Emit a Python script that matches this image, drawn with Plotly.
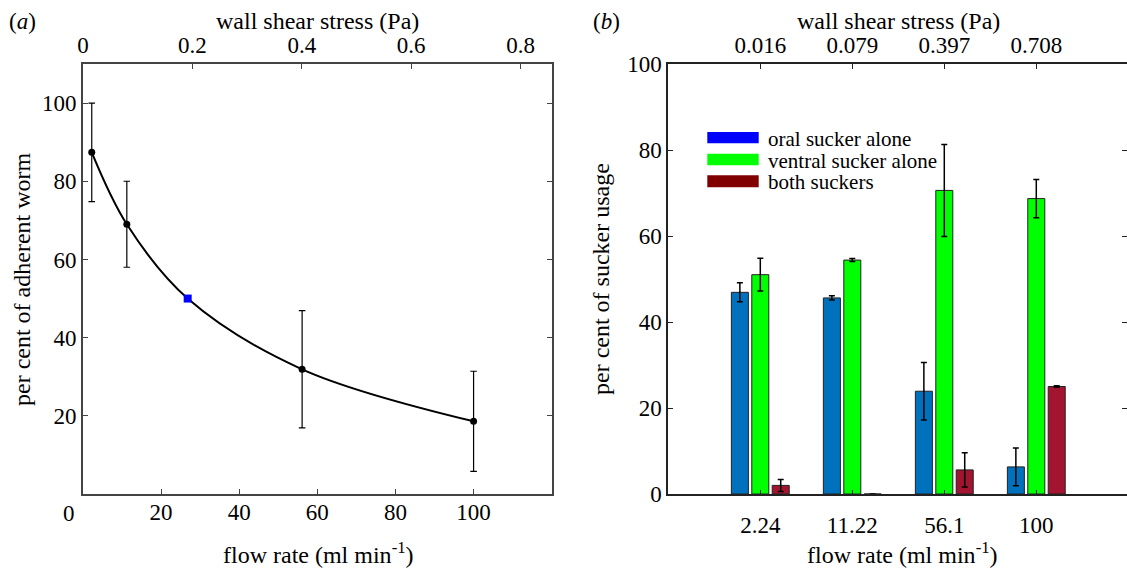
import plotly.graph_objects as go

# ---------------- data ----------------
# panel (a)
flow_a = [2.24, 11.22, 56.1, 100]
adherent = [87.4, 69.0, 31.9, 18.6]
adherent_err = [12.6, 11.0, 15.0, 12.8]
half_flow = [26.8]          # blue square (50 % point)
half_value = [50.0]
curve_x = [2.24, 11.22, 26.8, 56.1, 100]
curve_y = [87.4, 69.0, 50.0, 31.9, 18.6]
a_x_ticks = [20, 40, 60, 80, 100]
a_top_ticks = [0, 0.2, 0.4, 0.6, 0.8]
a_top_labels = ["0", "0.2", "0.4", "0.6", "0.8"]
a_y_ticks = [20, 40, 60, 80, 100]

# panel (b)
flow_labels = ["2.24", "11.22", "56.1", "100"]
stress_labels = ["0.016", "0.079", "0.397", "0.708"]
positions = [1, 2, 3, 4]
oral = [46.9, 45.6, 23.9, 6.3]
oral_err = [2.2, 0.5, 6.7, 4.4]
ventral = [51.0, 54.4, 70.6, 68.7]
ventral_err = [3.8, 0.35, 10.7, 4.45]
both = [2.0, 0.0, 5.6, 25.0]
both_err = [1.4, 0.0, 4.0, 0.2]
b_y_ticks = [0, 20, 40, 60, 80, 100]
series_names = ["oral sucker alone", "ventral sucker alone", "both suckers"]
bar_colors = ["#0072BD", "#00FF00", "#A2142F"]
legend_colors = ["#0000FF", "#00FF00", "#800000"]

# ---------------- layout helpers ----------------
W, H = 1127, 571
FONT = "Liberation Serif, Times New Roman, DejaVu Serif, serif"
def px(x):
    return x / W
def py(y):
    return 1 - y / H

tickfont = dict(family=FONT, size=23, color="black")

fig = go.Figure()

# panel (a)
fig.add_trace(go.Scatter(x=curve_x, y=curve_y, mode="lines", line=dict(color="black", width=2, shape="spline"),
                         xaxis="x", yaxis="y", showlegend=False, hoverinfo="skip"))
fig.add_trace(go.Scatter(x=flow_a, y=adherent, mode="markers",
                         marker=dict(color="black", size=7),
                         error_y=dict(type="data", array=adherent_err, color="black", thickness=1.2, width=3.3),
                         xaxis="x", yaxis="y", showlegend=False))
fig.add_trace(go.Scatter(x=half_flow, y=half_value, mode="markers",
                         marker=dict(color="#0000FF", size=8, symbol="square"),
                         xaxis="x", yaxis="y", showlegend=False))
fig.add_trace(go.Scatter(x=a_top_ticks, y=[None] * len(a_top_ticks), mode="markers",
                         xaxis="x2", yaxis="y", showlegend=False, hoverinfo="skip"))

# panel (b)
for vals, errs, col, name in zip([oral, ventral, both], [oral_err, ventral_err, both_err], bar_colors, series_names):
    fig.add_trace(go.Bar(x=positions, y=vals, name=name, marker=dict(color=col, line=dict(color="#222", width=1)),
                         error_y=dict(type="data", array=errs, color="black", thickness=1.5, width=3),
                         xaxis="x3", yaxis="y3", showlegend=False))
fig.add_trace(go.Scatter(x=positions, y=[None] * 4, mode="markers",
                         xaxis="x4", yaxis="y3", showlegend=False, hoverinfo="skip"))

axA = dict(showgrid=False, zeroline=False, showline=True, linecolor="#444", linewidth=2, automargin=False,
           ticks="inside", ticklen=5, tickcolor="#444", tickfont=tickfont)
axB = dict(showgrid=False, zeroline=False, showline=True, linecolor="#222", linewidth=2, automargin=False,
           ticks="inside", ticklen=5, tickcolor="#222", tickfont=tickfont)

domA_x = [px(83), px(551.7)]
domB_x = [px(668.3), 1.0]
dom_y = [py(494), py(64)]

fig.update_layout(
    width=W, height=H, margin=dict(l=0, r=0, t=0, b=0, autoexpand=False),
    paper_bgcolor="white", plot_bgcolor="white", showlegend=False,
    barmode="group", bargap=0.334, bargroupgap=0.167,
    font=dict(family=FONT, size=23, color="black"),
    xaxis=dict(axA, domain=domA_x, range=[0, 120], anchor="y", tickvals=a_x_ticks, ticklabelstandoff=-4),
    xaxis2=dict(axA, overlaying="x", side="top", anchor="y", range=[0, 0.857],
                tickvals=a_top_ticks, ticktext=a_top_labels),
    yaxis=dict(axA, domain=dom_y, range=[0, 110], anchor="x", tickvals=a_y_ticks, mirror="ticks"),
    xaxis3=dict(axB, domain=domB_x, range=[0, 4.986], anchor="y3", tickvals=positions, ticktext=flow_labels,
                ticklen=4, ticklabelstandoff=9),
    xaxis4=dict(axB, overlaying="x3", side="top", anchor="y3", range=[0, 4.986],
                tickvals=positions, ticktext=stress_labels),
    yaxis3=dict(axB, domain=dom_y, range=[0, 100], anchor="x3", tickvals=b_y_ticks, mirror="ticks"),
)

ann = []
def text(x, y, t, size=23, angle=0, xanchor="center"):
    ann.append(dict(x=px(x), y=py(y), xref="paper", yref="paper", text=t, showarrow=False,
                    font=dict(family=FONT, size=size, color="black"), textangle=angle,
                    xanchor=xanchor, yanchor="middle"))

text(22, 21, "(<i>a</i>)")
text(606, 21, "(<i>b</i>)")
text(317, 21, "wall shear stress (Pa)", size=24)
text(898, 21, "wall shear stress (Pa)", size=24)
text(318, 553, "flow rate (ml min<sup>-1</sup>)", size=24)
text(902, 553, "flow rate (ml min<sup>-1</sup>)", size=24)
text(22, 279, "per cent of adherent worm", size=24, angle=-90)
text(601, 279, "per cent of sucker usage", size=24, angle=-90)
text(68.6, 513, "0")

# manual legend
shapes = []
rows = [(132, 143.3, 139), (153.7, 165.3, 160.5), (175.3, 187.3, 182)]
for (y0, y1, yt), col, name in zip(rows, legend_colors, series_names):
    shapes.append(dict(type="rect", xref="paper", yref="paper", x0=px(707.3), x1=px(758.7),
                       y0=py(y1), y1=py(y0), fillcolor=col, line=dict(width=0)))
    text(766, yt, name, size=21, xanchor="left")

fig.update_layout(annotations=ann, shapes=shapes)
fig.write_html("out.html")
